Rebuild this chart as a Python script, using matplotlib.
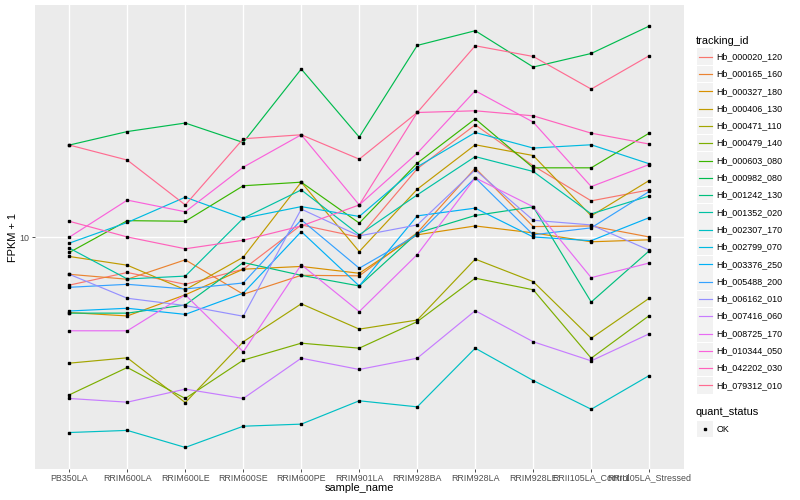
import numpy as np
import matplotlib
matplotlib.use("Agg")
import matplotlib.pyplot as plt
from matplotlib.lines import Line2D
from matplotlib.patches import Rectangle
from matplotlib.ticker import NullLocator, FixedLocator, FixedFormatter

plt.rcParams['font.family'] = ['Liberation Sans', 'DejaVu Sans']

samples = ["PB350LA", "RRIM600LA", "RRIM600LE", "RRIM600SE", "RRIM600PE",
           "RRIM901LA", "RRIM928BA", "RRIM928LA", "RRIM928LE",
           "RRII105LA_Control", "RRII105LA_Stressed"]

tracking_ids = ["Hb_000020_120", "Hb_000165_160", "Hb_000327_180", "Hb_000406_130",
                "Hb_000471_110", "Hb_000479_140", "Hb_000603_080", "Hb_000982_080",
                "Hb_001242_130", "Hb_001352_020", "Hb_002307_170", "Hb_002799_070",
                "Hb_003376_250", "Hb_005488_200", "Hb_006162_010", "Hb_007416_060",
                "Hb_008725_170", "Hb_010344_050", "Hb_042202_030", "Hb_079312_010"]

# FPKM + 1 values per gene, in sample order
Hb_000020_120 = [8.02, 8.50, 8.05, 8.63, 10.58, 10.00, 13.70, 16.77, 13.89, 11.82, 12.43]
Hb_000165_160 = [8.43, 8.24, 9.01, 7.69, 8.39, 8.37, 10.21, 13.74, 10.50, 10.53, 10.01]
Hb_000327_180 = [7.07, 6.96, 7.67, 8.63, 8.74, 8.47, 10.11, 10.53, 10.20, 9.79, 9.88]
Hb_000406_130 = [9.15, 8.79, 7.85, 9.12, 12.88, 9.36, 12.47, 15.30, 14.56, 11.03, 12.98]
Hb_000471_110 = [5.60, 5.74, 4.67, 6.18, 7.36, 6.55, 6.83, 9.04, 8.15, 6.28, 7.55]
Hb_000479_140 = [4.84, 5.49, 4.76, 5.68, 6.14, 6.00, 6.78, 8.28, 7.85, 5.73, 6.97]
Hb_000603_080 = [9.32, 10.79, 10.76, 12.67, 12.88, 10.67, 14.06, 17.24, 13.76, 13.76, 16.14]
Hb_000982_080 = [15.28, 16.26, 16.91, 15.46, 21.68, 15.85, 24.17, 25.86, 21.88, 23.29, 26.42]
Hb_001242_130 = [7.05, 7.05, 7.32, 8.90, 8.39, 7.99, 10.19, 11.05, 11.50, 7.42, 9.39]
Hb_001352_020 = [9.51, 8.25, 8.36, 10.91, 12.43, 10.11, 12.15, 14.49, 13.53, 11.13, 12.09]
Hb_002307_170 = [4.07, 4.11, 3.80, 4.19, 4.23, 4.71, 4.58, 6.00, 5.17, 4.53, 5.29]
Hb_002799_070 = [9.73, 10.70, 12.02, 10.91, 11.51, 11.00, 13.82, 16.19, 15.07, 15.30, 14.02]
Hb_003376_250 = [7.12, 7.21, 7.01, 7.73, 10.26, 7.99, 11.03, 11.43, 10.01, 9.84, 10.94]
Hb_005488_200 = [7.94, 8.05, 7.88, 8.10, 10.83, 8.67, 10.11, 13.14, 10.11, 10.44, 12.34]
Hb_006162_010 = [8.43, 7.55, 7.30, 6.95, 11.38, 10.06, 10.58, 13.63, 10.81, 10.58, 9.42]
Hb_007416_060 = [4.76, 4.68, 4.97, 4.76, 5.73, 5.44, 5.73, 7.13, 6.18, 5.66, 6.41]
Hb_008725_170 = [6.50, 6.50, 7.67, 5.90, 8.81, 7.10, 9.23, 13.14, 11.50, 8.30, 8.88]
Hb_010344_050 = [10.00, 11.86, 11.24, 13.80, 16.02, 11.60, 14.72, 19.62, 16.98, 12.62, 13.97]
Hb_042202_030 = [10.76, 10.01, 9.48, 9.86, 10.53, 11.60, 17.75, 17.89, 17.48, 16.14, 15.35]
Hb_079312_010 = [15.28, 14.26, 11.60, 15.73, 16.02, 14.32, 17.75, 24.13, 22.97, 19.77, 23.05]

series = [Hb_000020_120, Hb_000165_160, Hb_000327_180, Hb_000406_130, Hb_000471_110,
          Hb_000479_140, Hb_000603_080, Hb_000982_080, Hb_001242_130, Hb_001352_020,
          Hb_002307_170, Hb_002799_070, Hb_003376_250, Hb_005488_200, Hb_006162_010,
          Hb_007416_060, Hb_008725_170, Hb_010344_050, Hb_042202_030, Hb_079312_010]

colors = ["#F8766D", "#EA8331", "#D89000", "#C09B00", "#A3A500", "#7CAE00", "#39B600",
          "#00BB4E", "#00BF7D", "#00C1A3", "#00BFC4", "#00BAE0", "#00B0F6", "#35A2FF",
          "#9590FF", "#C77CFF", "#E76BF3", "#FA62DB", "#FF62BC", "#FF6C91"]

W, H = 800, 500
fig = plt.figure(figsize=(8, 5), dpi=100)
fig.patch.set_facecolor("white")

def fx(px):
    return px / W

def fy(py):
    return 1 - py / H

pl, pr, pt, pb = 34.5, 684.0, 5.0, 468.5
ax = fig.add_axes([fx(pl), fy(pb), fx(pr - pl), (pb - pt) / H])
ax.set_facecolor("#EBEBEB")
for s in ax.spines.values():
    s.set_visible(False)

x = np.arange(len(samples))
for vals, c in zip(series, colors):
    ax.plot(x, vals, color=c, lw=0.85, solid_joinstyle="round", zorder=3)
for vals in series:
    ax.plot(x, vals, ls="none", marker="s", ms=2.0, color="black", zorder=4)

ax.set_yscale("log")
allv = np.concatenate([np.array(v) for v in series])
lo, hi = np.log10(allv.min()), np.log10(allv.max())
pad = 0.05 * (hi - lo)
ax.set_ylim(10 ** (lo - pad), 10 ** (hi + pad))
ax.set_xlim(-0.6, len(samples) - 1 + 0.6)

ax.yaxis.set_major_locator(FixedLocator([10]))
ax.yaxis.set_major_formatter(FixedFormatter(["10"]))
ax.yaxis.set_minor_locator(NullLocator())
ax.set_xticks(x)
ax.set_xticklabels(samples)

ax.grid(True, which="major", color="white", lw=1.0, zorder=1)
ax.set_axisbelow(True)
ax.tick_params(axis="both", which="major", length=2.2, width=0.6, color="#333333",
               labelcolor="#4D4D4D", labelsize=6.4, pad=1.5)

fig.text(fx(359), fy(488), "sample_name", ha="center", va="center", fontsize=7.9, color="black")
fig.text(fx(13), fy(237), "FPKM + 1", ha="center", va="center", rotation=90, fontsize=7.9, color="black")

# legend: tracking_id
fig.text(fx(696), fy(40.5), "tracking_id", ha="left", va="center", fontsize=7.9, color="black")
y0, dy = 56.7, 17.3
for i, (tid, c) in enumerate(zip(tracking_ids, colors)):
    yc = y0 + i * dy
    fig.patches.append(Rectangle((fx(697), fy(yc + 8.3)), fx(16), 16.6 / H,
                                 transform=fig.transFigure, facecolor="#F2F2F2",
                                 edgecolor="none", figure=fig))
    fig.lines.append(Line2D([fx(698.5), fx(711.5)], [fy(yc), fy(yc)], color=c, lw=0.85,
                            transform=fig.transFigure, figure=fig))
    fig.text(fx(716.5), fy(yc), tid, ha="left", va="center", fontsize=6.4, color="black")

# legend: quant_status
fig.text(fx(696), fy(412.3), "quant_status", ha="left", va="center", fontsize=7.9, color="black")
fig.patches.append(Rectangle((fx(697), fy(429 + 8.3)), fx(16), 16.6 / H,
                             transform=fig.transFigure, facecolor="#F2F2F2",
                             edgecolor="none", figure=fig))
fig.lines.append(Line2D([fx(705)], [fy(429)], ls="none", marker="s", ms=2.0, color="black",
                        transform=fig.transFigure, figure=fig))
fig.text(fx(716.5), fy(429), "OK", ha="left", va="center", fontsize=6.4, color="black")

fig.savefig("out.png", dpi=100, facecolor="white")
